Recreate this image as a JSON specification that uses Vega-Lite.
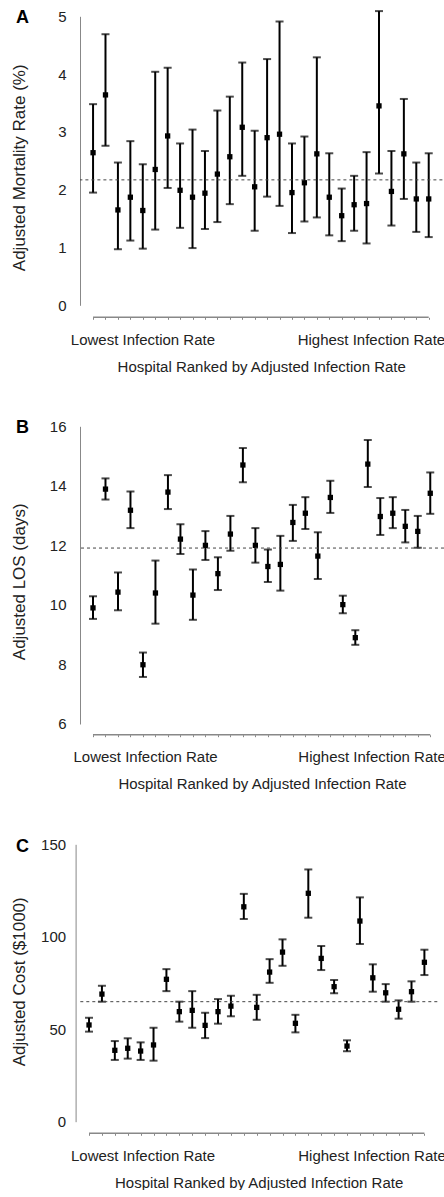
{
  "$schema": "https://vega.github.io/schema/vega-lite/v6.json",
  "padding": {"left": 10, "top": 8.3, "right": 0, "bottom": 0},
  "background": "white",
  "config": {
    "font": "Liberation Sans",
    "view": {"stroke": null},
    "axis": {"labelColor": "#222", "titleColor": "#222", "labelFontSize": 15, "titleFontWeight": "normal", "grid": false}
  },
  "datasets": {
    "A": [
      {"h": 1, "v": 2.64, "lo": 1.95, "hi": 3.48},
      {"h": 2, "v": 3.64, "lo": 2.76, "hi": 4.69},
      {"h": 3, "v": 1.65, "lo": 0.97, "hi": 2.47},
      {"h": 4, "v": 1.87, "lo": 1.12, "hi": 2.84},
      {"h": 5, "v": 1.64, "lo": 0.98, "hi": 2.44},
      {"h": 6, "v": 2.35, "lo": 1.31, "hi": 4.04},
      {"h": 7, "v": 2.93, "lo": 2.03, "hi": 4.11},
      {"h": 8, "v": 1.99, "lo": 1.34, "hi": 2.80},
      {"h": 9, "v": 1.87, "lo": 0.99, "hi": 3.04},
      {"h": 10, "v": 1.94, "lo": 1.32, "hi": 2.67},
      {"h": 11, "v": 2.27, "lo": 1.44, "hi": 3.37},
      {"h": 12, "v": 2.57, "lo": 1.75, "hi": 3.61},
      {"h": 13, "v": 3.08, "lo": 2.24, "hi": 4.20},
      {"h": 14, "v": 2.05, "lo": 1.29, "hi": 3.02},
      {"h": 15, "v": 2.90, "lo": 1.88, "hi": 4.26},
      {"h": 16, "v": 2.96, "lo": 1.72, "hi": 4.91},
      {"h": 17, "v": 1.95, "lo": 1.25, "hi": 2.80},
      {"h": 18, "v": 2.12, "lo": 1.45, "hi": 2.92},
      {"h": 19, "v": 2.62, "lo": 1.52, "hi": 4.29},
      {"h": 20, "v": 1.87, "lo": 1.21, "hi": 2.63},
      {"h": 21, "v": 1.55, "lo": 1.11, "hi": 2.02},
      {"h": 22, "v": 1.74, "lo": 1.29, "hi": 2.24},
      {"h": 23, "v": 1.76, "lo": 1.07, "hi": 2.65},
      {"h": 24, "v": 3.45, "lo": 2.28, "hi": 5.09},
      {"h": 25, "v": 1.97, "lo": 1.38, "hi": 2.67},
      {"h": 26, "v": 2.62, "lo": 1.84, "hi": 3.57},
      {"h": 27, "v": 1.84, "lo": 1.27, "hi": 2.47},
      {"h": 28, "v": 1.84, "lo": 1.18, "hi": 2.63}
    ],
    "B": [
      {"h": 1, "v": 9.90, "lo": 9.53, "hi": 10.29},
      {"h": 2, "v": 13.89, "lo": 13.54, "hi": 14.25},
      {"h": 3, "v": 10.43, "lo": 9.82, "hi": 11.09},
      {"h": 4, "v": 13.18, "lo": 12.58, "hi": 13.81},
      {"h": 5, "v": 7.99, "lo": 7.58, "hi": 8.40},
      {"h": 6, "v": 10.40, "lo": 9.37, "hi": 11.49},
      {"h": 7, "v": 13.79, "lo": 13.22, "hi": 14.36},
      {"h": 8, "v": 12.21, "lo": 11.71, "hi": 12.71},
      {"h": 9, "v": 10.33, "lo": 9.50, "hi": 11.19},
      {"h": 10, "v": 12.00, "lo": 11.51, "hi": 12.48},
      {"h": 11, "v": 11.05, "lo": 10.50, "hi": 11.60},
      {"h": 12, "v": 12.38, "lo": 11.82, "hi": 12.99},
      {"h": 13, "v": 14.70, "lo": 14.12, "hi": 15.27},
      {"h": 14, "v": 12.00, "lo": 11.42, "hi": 12.58},
      {"h": 15, "v": 11.29, "lo": 10.77, "hi": 11.86},
      {"h": 16, "v": 11.36, "lo": 10.48, "hi": 12.32},
      {"h": 17, "v": 12.77, "lo": 12.15, "hi": 13.36},
      {"h": 18, "v": 13.08, "lo": 12.55, "hi": 13.62},
      {"h": 19, "v": 11.64, "lo": 10.87, "hi": 12.44},
      {"h": 20, "v": 13.61, "lo": 13.09, "hi": 14.17},
      {"h": 21, "v": 10.01, "lo": 9.72, "hi": 10.31},
      {"h": 22, "v": 8.90, "lo": 8.66, "hi": 9.15},
      {"h": 23, "v": 14.73, "lo": 13.96, "hi": 15.54},
      {"h": 24, "v": 12.97, "lo": 12.35, "hi": 13.59},
      {"h": 25, "v": 13.08, "lo": 12.58, "hi": 13.62},
      {"h": 26, "v": 12.64, "lo": 12.10, "hi": 13.19},
      {"h": 27, "v": 12.47, "lo": 11.92, "hi": 12.99},
      {"h": 28, "v": 13.75, "lo": 13.06, "hi": 14.45}
    ],
    "C": [
      {"h": 1, "v": 52.3, "lo": 48.7, "hi": 56.2},
      {"h": 2, "v": 69.0, "lo": 64.9, "hi": 73.5},
      {"h": 3, "v": 38.6, "lo": 33.4, "hi": 43.6},
      {"h": 4, "v": 39.7, "lo": 34.1, "hi": 45.1},
      {"h": 5, "v": 38.2, "lo": 33.4, "hi": 42.9},
      {"h": 6, "v": 41.5, "lo": 33.0, "hi": 50.8},
      {"h": 7, "v": 77.0, "lo": 70.6, "hi": 82.5},
      {"h": 8, "v": 59.5, "lo": 54.1, "hi": 64.9},
      {"h": 9, "v": 60.2, "lo": 50.8, "hi": 70.6},
      {"h": 10, "v": 52.1, "lo": 45.2, "hi": 58.9},
      {"h": 11, "v": 59.5, "lo": 53.0, "hi": 66.3},
      {"h": 12, "v": 62.5, "lo": 57.0, "hi": 68.1},
      {"h": 13, "v": 116.2, "lo": 109.6, "hi": 123.2},
      {"h": 14, "v": 61.8, "lo": 55.1, "hi": 68.6},
      {"h": 15, "v": 80.9, "lo": 75.1, "hi": 87.9},
      {"h": 16, "v": 91.7, "lo": 84.3, "hi": 98.6},
      {"h": 17, "v": 53.2, "lo": 48.3, "hi": 57.8},
      {"h": 18, "v": 123.5, "lo": 110.3, "hi": 136.4},
      {"h": 19, "v": 88.3, "lo": 82.0, "hi": 95.0},
      {"h": 20, "v": 73.0, "lo": 69.4, "hi": 76.6},
      {"h": 21, "v": 40.9, "lo": 38.1, "hi": 44.0},
      {"h": 22, "v": 108.5, "lo": 96.1, "hi": 121.3},
      {"h": 23, "v": 77.8, "lo": 70.3, "hi": 85.1},
      {"h": 24, "v": 69.7, "lo": 64.9, "hi": 74.4},
      {"h": 25, "v": 60.8, "lo": 55.7, "hi": 65.6},
      {"h": 26, "v": 70.3, "lo": 64.9, "hi": 75.9},
      {"h": 27, "v": 86.2, "lo": 79.3, "hi": 93.0}
    ],
    "meanA": [{"m": 2.17}],
    "meanB": [{"m": 11.91}],
    "meanC": [{"m": 64.9}]
  },
  "concat": [
    {
      "data": {"name": "A"},
      "width": 362.4,
      "height": 289,
      "resolve": {"axis": {"x": "independent", "y": "independent"}},
      "layer": [
        {
          "mark": {"type": "rule", "color": "#000", "strokeWidth": 2},
          "encoding": {
            "x": {"field": "h", "type": "quantitative", "scale": {"domain": [-0.05, 29.1], "nice": false, "zero": false},
              "axis": {"title": "Hospital Ranked by Adjusted Infection Rate", "titleFontSize": 15, "titlePadding": 12,
                "values": [1,2,3,4,5,6,7,8,9,10,11,12,13,14,15,16,17,18,19,20,21,22,23,24,25,26,27,28,4.97,23.35],
                "domain": false, "offset": 12, "tickSize": 2, "tickColor": "#888", "tickWidth": 1,
                "tickOpacity": {"condition": {"test": "datum.value % 1 != 0", "value": 0}, "value": 1},
                "labelExpr": "datum.value % 1 == 0 ? '' : (datum.value < 12 ? 'Lowest Infection Rate' : 'Highest Infection Rate')",
                "labelOverlap": false, "labelBound": false, "labelFlush": false, "labelPadding": 13}},
            "y": {"field": "lo", "type": "quantitative", "scale": {"domain": [0, 5], "nice": false, "zero": false},
              "axis": {"title": "Adjusted Mortality Rate (%)", "values": [0,1,2,3,4,5], "ticks": false, "domainColor": "#888", "domainWidth": 1,
                "labelPadding": 14, "titleFontSize": 17, "titlePadding": 29, "titleY": 151}},
            "y2": {"field": "hi"}
          }
        },
        {
          "mark": {"type": "tick", "orient": "horizontal", "color": "#000", "size": 8, "thickness": 2},
          "encoding": {"x": {"field": "h", "type": "quantitative", "axis": null}, "y": {"field": "lo", "type": "quantitative", "axis": null}}
        },
        {
          "mark": {"type": "tick", "orient": "horizontal", "color": "#000", "size": 8, "thickness": 2},
          "encoding": {"x": {"field": "h", "type": "quantitative", "axis": null}, "y": {"field": "hi", "type": "quantitative", "axis": null}}
        },
        {
          "mark": {"type": "square", "color": "#000", "filled": true, "opacity": 1, "size": 28},
          "encoding": {"x": {"field": "h", "type": "quantitative", "axis": null},
            "y": {"field": "v", "type": "quantitative", "axis": {"orient": "left", "title": "A", "domain": false, "ticks": false, "labels": false, "grid": false,
              "titleAngle": 0, "titleX": -64.4, "titleY": 6.5, "titleAlign": "left", "titleBaseline": "alphabetic", "titleFontSize": 18, "titleFontWeight": "bold", "titleColor": "#000", "titlePadding": 0}}}
        },
        {
          "mark": {"type": "rule", "color": "#888", "strokeWidth": 1.5, "yOffset": 12},
          "encoding": {"x": {"aggregate": "min", "field": "h", "type": "quantitative", "axis": null}, "x2": {"aggregate": "max", "field": "h"}, "y": {"datum": 0, "type": "quantitative", "axis": null}}
        },
        {
          "data": {"name": "meanA"},
          "mark": {"type": "rule", "color": "#444", "strokeWidth": 1, "strokeDash": [3, 3]},
          "encoding": {"y": {"field": "m", "type": "quantitative", "axis": null}}
        }
      ]
    },
    {
      "data": {"name": "B"},
      "width": 364,
      "height": 297.7,
      "resolve": {"axis": {"x": "independent", "y": "independent"}},
      "layer": [
        {
          "mark": {"type": "rule", "color": "#000", "strokeWidth": 2},
          "encoding": {
            "x": {"field": "h", "type": "quantitative", "scale": {"domain": [-0.04, 29.1], "nice": false, "zero": false},
              "axis": {"title": "Hospital Ranked by Adjusted Infection Rate", "titleFontSize": 15, "titlePadding": 12,
                "values": [1,2,3,4,5,6,7,8,9,10,11,12,13,14,15,16,17,18,19,20,21,22,23,24,25,26,27,28,5.17,23.3],
                "domain": false, "offset": 10.7, "tickSize": 2, "tickColor": "#888", "tickWidth": 1,
                "tickOpacity": {"condition": {"test": "datum.value % 1 != 0", "value": 0}, "value": 1},
                "labelExpr": "datum.value % 1 == 0 ? '' : (datum.value < 12 ? 'Lowest Infection Rate' : 'Highest Infection Rate')",
                "labelOverlap": false, "labelBound": false, "labelFlush": false, "labelPadding": 13}},
            "y": {"field": "lo", "type": "quantitative", "scale": {"domain": [6, 16], "nice": false, "zero": false},
              "axis": {"title": "Adjusted LOS (days)", "values": [6,8,10,12,14,16], "ticks": false, "domainColor": "#888", "domainWidth": 1,
                "labelPadding": 14, "titleFontSize": 17, "titlePadding": 20.6, "titleY": 155}},
            "y2": {"field": "hi"}
          }
        },
        {
          "mark": {"type": "tick", "orient": "horizontal", "color": "#000", "size": 8, "thickness": 2},
          "encoding": {"x": {"field": "h", "type": "quantitative", "axis": null}, "y": {"field": "lo", "type": "quantitative", "axis": null}}
        },
        {
          "mark": {"type": "tick", "orient": "horizontal", "color": "#000", "size": 8, "thickness": 2},
          "encoding": {"x": {"field": "h", "type": "quantitative", "axis": null}, "y": {"field": "hi", "type": "quantitative", "axis": null}}
        },
        {
          "mark": {"type": "square", "color": "#000", "filled": true, "opacity": 1, "size": 28},
          "encoding": {"x": {"field": "h", "type": "quantitative", "axis": null},
            "y": {"field": "v", "type": "quantitative", "axis": {"orient": "left", "title": "B", "domain": false, "ticks": false, "labels": false, "grid": false,
              "titleAngle": 0, "titleX": -64.4, "titleY": 6.3, "titleAlign": "left", "titleBaseline": "alphabetic", "titleFontSize": 18, "titleFontWeight": "bold", "titleColor": "#000", "titlePadding": 0}}}
        },
        {
          "mark": {"type": "rule", "color": "#888", "strokeWidth": 1.5, "yOffset": 10.7},
          "encoding": {"x": {"aggregate": "min", "field": "h", "type": "quantitative", "axis": null}, "x2": {"aggregate": "max", "field": "h"}, "y": {"datum": 6, "type": "quantitative", "axis": null}}
        },
        {
          "data": {"name": "meanB"},
          "mark": {"type": "rule", "color": "#444", "strokeWidth": 1, "strokeDash": [3, 3]},
          "encoding": {"y": {"field": "m", "type": "quantitative", "axis": null}}
        }
      ]
    },
    {
      "data": {"name": "C"},
      "width": 357.3,
      "height": 277.4,
      "resolve": {"axis": {"x": "independent", "y": "independent"}},
      "layer": [
        {
          "mark": {"type": "rule", "color": "#000", "strokeWidth": 2},
          "encoding": {
            "x": {"field": "h", "type": "quantitative", "scale": {"domain": [0.3, 28], "nice": false, "zero": false},
              "axis": {"title": "Hospital Ranked by Adjusted Infection Rate", "titleFontSize": 15, "titlePadding": 12,
                "values": [1,2,3,4,5,6,7,8,9,10,11,12,13,14,15,16,17,18,19,20,21,22,23,24,25,26,27,5.15,22.9],
                "domain": false, "offset": 11.6, "tickSize": 2, "tickColor": "#888", "tickWidth": 1,
                "tickOpacity": {"condition": {"test": "datum.value % 1 != 0", "value": 0}, "value": 1},
                "labelExpr": "datum.value % 1 == 0 ? '' : (datum.value < 12 ? 'Lowest Infection Rate' : 'Highest Infection Rate')",
                "labelOverlap": false, "labelBound": false, "labelFlush": false, "labelPadding": 13}},
            "y": {"field": "lo", "type": "quantitative", "scale": {"domain": [0, 150], "nice": false, "zero": false},
              "axis": {"title": "Adjusted Cost ($1000)", "values": [0,50,100,150], "ticks": false, "domainColor": "#888", "domainWidth": 1, "offset": 4.4,
                "labelPadding": 10, "titleFontSize": 17, "titlePadding": 11.9, "titleY": 137}},
            "y2": {"field": "hi"}
          }
        },
        {
          "mark": {"type": "tick", "orient": "horizontal", "color": "#000", "size": 8, "thickness": 2},
          "encoding": {"x": {"field": "h", "type": "quantitative", "axis": null}, "y": {"field": "lo", "type": "quantitative", "axis": null}}
        },
        {
          "mark": {"type": "tick", "orient": "horizontal", "color": "#000", "size": 8, "thickness": 2},
          "encoding": {"x": {"field": "h", "type": "quantitative", "axis": null}, "y": {"field": "hi", "type": "quantitative", "axis": null}}
        },
        {
          "mark": {"type": "square", "color": "#000", "filled": true, "opacity": 1, "size": 28},
          "encoding": {"x": {"field": "h", "type": "quantitative", "axis": null},
            "y": {"field": "v", "type": "quantitative", "axis": {"orient": "left", "title": "C", "domain": false, "ticks": false, "labels": false, "grid": false,
              "titleAngle": 0, "titleX": -64.4, "titleY": 6.8, "titleAlign": "left", "titleBaseline": "alphabetic", "titleFontSize": 18, "titleFontWeight": "bold", "titleColor": "#000", "titlePadding": 0}}}
        },
        {
          "mark": {"type": "rule", "color": "#888", "strokeWidth": 1.5, "yOffset": 11.6},
          "encoding": {"x": {"aggregate": "min", "field": "h", "type": "quantitative", "axis": null}, "x2": {"aggregate": "max", "field": "h"}, "y": {"datum": 0, "type": "quantitative", "axis": null}}
        },
        {
          "data": {"name": "meanC"},
          "mark": {"type": "rule", "color": "#444", "strokeWidth": 1, "strokeDash": [3, 3]},
          "encoding": {"y": {"field": "m", "type": "quantitative", "axis": null}}
        }
      ]
    }
  ],
  "columns": 1,
  "align": "none",
  "spacing": 44
}
